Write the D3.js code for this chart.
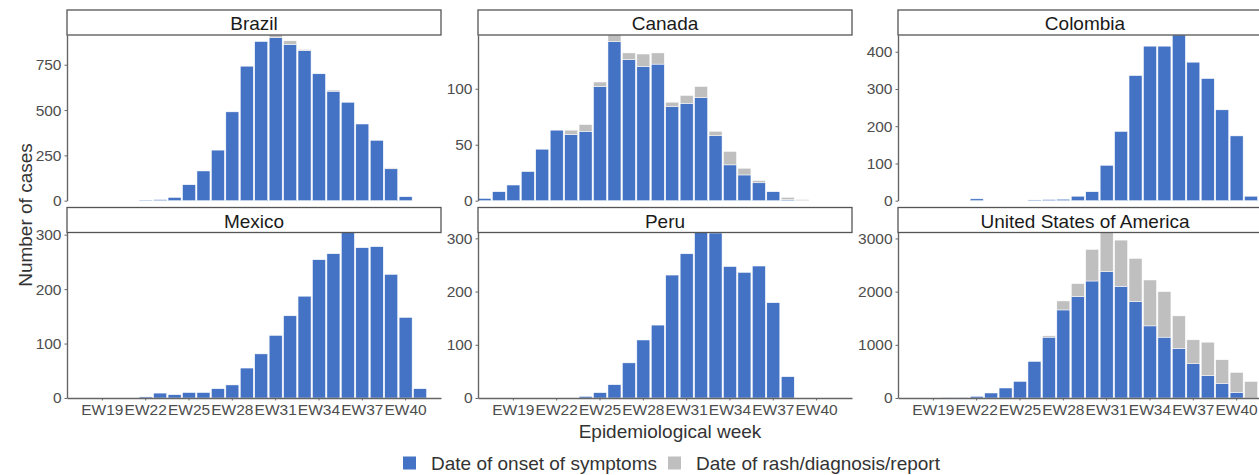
<!DOCTYPE html>
<html>
<head>
<meta charset="utf-8">
<script src="https://cdn.jsdelivr.net/npm/d3@7"></script>
<style>
  body { margin: 0; background: #fff; }
  text { font-family: "Liberation Sans", Arial, sans-serif; }
</style>
</head>
<body>
<div id="chart"></div>
<script>
// weeks on the x axis (one band per week)
const weeks = ["EW17", "EW18", "EW19", "EW20", "EW21", "EW22", "EW23", "EW24", "EW25",
  "EW26", "EW27", "EW28", "EW29", "EW30", "EW31", "EW32", "EW33", "EW34", "EW35",
  "EW36", "EW37", "EW38", "EW39", "EW40", "EW41", "EW42"];
const weekTicks = ["EW19", "EW22", "EW25", "EW28", "EW31", "EW34", "EW37", "EW40"];

const countries = ["Brazil", "Canada", "Colombia", "Mexico", "Peru", "United States of America"];

// cases by date of onset of symptoms / by date of rash, diagnosis or report
const brazilOnset  = [0, 0, 0, 0, 0, 3, 6, 18, 88, 164, 279, 490, 742, 878, 900, 862, 828, 700, 604, 543, 423, 333, 176, 22, 0, 0];
const brazilReport = [0, 0, 0, 0, 0, 0, 0, 0, 0, 0, 0, 0, 0, 0, 14, 20, 6, 0, 6, 0, 0, 0, 5, 0, 0, 0];
const canadaOnset  = [2, 8, 14, 26, 46, 63, 59, 62, 102, 142, 126, 120, 122, 84, 87, 92, 58, 32, 23, 16, 8, 1, 0, 0, 0, 0];
const canadaReport = [0, 0, 0, 0, 0, 0, 4, 6, 4, 6, 6, 11, 10, 4, 7, 10, 4, 12, 6, 2, 0, 2, 1, 0, 0, 0];
const colombiaOnset  = [0, 0, 0, 0, 0, 5, 0, 0, 0, 2, 3, 4, 12, 24, 95, 186, 336, 415, 415, 445, 372, 328, 244, 174, 12, 0];
const colombiaReport = [0, 0, 0, 0, 0, 0, 0, 0, 0, 0, 0, 0, 0, 0, 0, 0, 0, 0, 0, 0, 0, 0, 0, 0, 0, 0];
const mexicoOnset  = [0, 0, 0, 0, 0, 2, 9, 6, 10, 10, 17, 24, 55, 81, 115, 151, 187, 254, 265, 304, 276, 278, 227, 148, 17, 0];
const mexicoReport = [0, 0, 0, 0, 0, 0, 0, 0, 0, 0, 0, 0, 0, 0, 0, 0, 0, 0, 0, 0, 0, 0, 0, 0, 0, 0];
const peruOnset  = [0, 0, 0, 0, 0, 0, 0, 3, 10, 25, 66, 109, 137, 231, 271, 311, 310, 247, 236, 248, 179, 40, 0, 0, 0, 0];
const peruReport = [0, 0, 0, 0, 0, 0, 0, 0, 0, 0, 0, 0, 0, 0, 0, 0, 0, 0, 0, 0, 0, 0, 0, 0, 0, 0];
const usaOnset  = [0, 0, 0, 4, 10, 31, 94, 188, 312, 687, 1144, 1656, 1906, 2200, 2375, 2100, 1812, 1356, 1144, 931, 644, 419, 275, 106, 0, 0];
const usaReport = [0, 0, 0, 0, 0, 0, 0, 0, 0, 0, 25, 169, 244, 594, 737, 869, 813, 863, 856, 613, 450, 631, 444, 375, 312, 0];

// y tick labels per panel
const brazilTicks = [0, 250, 500, 750];
const canadaTicks = [0, 50, 100];
const colombiaTicks = [0, 100, 200, 300, 400];
const mexicoTicks = [0, 100, 200, 300];
const peruTicks = [0, 100, 200, 300];
const usaTicks = [0, 1000, 2000, 3000];

const onsetColor = "#4472c4", reportColor = "#bfbfbf";

const panels = [
  { name: countries[0], onset: brazilOnset, report: brazilReport, ticks: brazilTicks },
  { name: countries[1], onset: canadaOnset, report: canadaReport, ticks: canadaTicks },
  { name: countries[2], onset: colombiaOnset, report: colombiaReport, ticks: colombiaTicks },
  { name: countries[3], onset: mexicoOnset, report: mexicoReport, ticks: mexicoTicks },
  { name: countries[4], onset: peruOnset, report: peruReport, ticks: peruTicks },
  { name: countries[5], onset: usaOnset, report: usaReport, ticks: usaTicks }
];

// layout
const W = 1259, H = 475;
const colX = [67, 478, 898], panelW = 374;
const rows = [
  { stripTop: 10, plotTop: 35, plotBottom: 200.7 },
  { stripTop: 207.5, plotTop: 232.5, plotBottom: 398 }
];
const stripH = 25;

const svg = d3.select("#chart")
  .append("svg")
  .attr("width", W)
  .attr("height", H);

const x = d3.scaleBand()
  .domain(weeks)
  .range([0, panelW])
  .paddingInner(0.1)
  .paddingOuter(0);

panels.forEach(function (p, i) {
  const row = rows[Math.floor(i / 3)];
  const x0 = colX[i % 3];
  const data = weeks.map((w, k) => ({ week: w, onset: p.onset[k], report: p.report[k] }));
  const maxTotal = d3.max(data, d => d.onset + d.report);

  const y = d3.scaleLinear()
    .domain([0, maxTotal])
    .range([row.plotBottom - row.plotTop, 0]);

  const g = svg.append("g")
    .attr("transform", "translate(" + x0 + "," + row.plotTop + ")");

  // strip
  svg.append("rect")
    .attr("x", x0)
    .attr("y", row.stripTop)
    .attr("width", panelW)
    .attr("height", stripH)
    .attr("fill", "#fff")
    .attr("stroke", "#555")
    .attr("stroke-width", 1.3);
  svg.append("text")
    .attr("x", x0 + panelW / 2)
    .attr("y", row.stripTop + 20)
    .attr("text-anchor", "middle")
    .attr("font-size", "19px")
    .attr("fill", "#1a1a1a")
    .text(p.name);

  // blue bars
  g.selectAll("rect.onset")
    .data(data.filter(d => d.onset > 0))
    .join("rect")
    .attr("class", "onset")
    .attr("x", d => x(d.week))
    .attr("width", x.bandwidth())
    .attr("y", d => y(d.onset))
    .attr("height", d => y(0) - y(d.onset))
    .attr("fill", onsetColor)
    .attr("stroke", "#fff")
    .attr("stroke-width", 0.5);

  // gray bars stacked on top
  g.selectAll("rect.report")
    .data(data.filter(d => d.report > 0))
    .join("rect")
    .attr("class", "report")
    .attr("x", d => x(d.week))
    .attr("width", x.bandwidth())
    .attr("y", d => y(d.onset + d.report))
    .attr("height", d => y(d.onset) - y(d.onset + d.report))
    .attr("fill", reportColor)
    .attr("stroke", "#fff")
    .attr("stroke-width", 0.5);

  // y axis
  const ya = g.append("g")
    .call(d3.axisLeft(y).tickValues(p.ticks).tickFormat(d3.format("d"))
      .tickSize(2.5).tickSizeOuter(0).tickPadding(3));
  ya.select(".domain").attr("stroke", "#666").attr("stroke-width", 1.4);
  ya.selectAll(".tick line").attr("stroke", "#666").attr("stroke-width", 1);
  ya.selectAll(".tick text")
    .attr("font-size", "15.5px")
    .attr("font-family", "Liberation Sans, Arial, sans-serif")
    .attr("fill", "#4d4d4d");

  // x axis only on the bottom row
  if (i >= 3) {
    const xa = g.append("g")
      .attr("transform", "translate(0," + (row.plotBottom - row.plotTop) + ")")
      .call(d3.axisBottom(x).tickValues(weekTicks).tickSize(2.5).tickSizeOuter(0).tickPadding(3));
    xa.select(".domain").attr("stroke", "#666").attr("stroke-width", 1.4);
    xa.selectAll(".tick line").attr("stroke", "#666").attr("stroke-width", 1);
    xa.selectAll(".tick text")
      .attr("font-size", "15.5px")
      .attr("font-family", "Liberation Sans, Arial, sans-serif")
      .attr("fill", "#4d4d4d");
  }
});

// axis titles
svg.append("text")
  .attr("x", 670)
  .attr("y", 438)
  .attr("text-anchor", "middle")
  .attr("font-size", "19px")
  .attr("fill", "#333")
  .text("Epidemiological week");

svg.append("text")
  .attr("transform", "translate(31.5,215) rotate(-90)")
  .attr("text-anchor", "middle")
  .attr("font-size", "19px")
  .attr("fill", "#333")
  .text("Number of cases");

// legend
const legend = [
  { label: "Date of onset of symptoms", color: onsetColor, x: 403 },
  { label: "Date of rash/diagnosis/report", color: reportColor, x: 668 }
];
legend.forEach(function (l) {
  svg.append("rect")
    .attr("x", l.x)
    .attr("y", 456.5)
    .attr("width", 13)
    .attr("height", 13)
    .attr("fill", l.color);
  svg.append("text")
    .attr("x", l.x + 28)
    .attr("y", 469.5)
    .attr("font-size", "19px")
    .attr("fill", "#333")
    .text(l.label);
});
</script>
</body>
</html>
